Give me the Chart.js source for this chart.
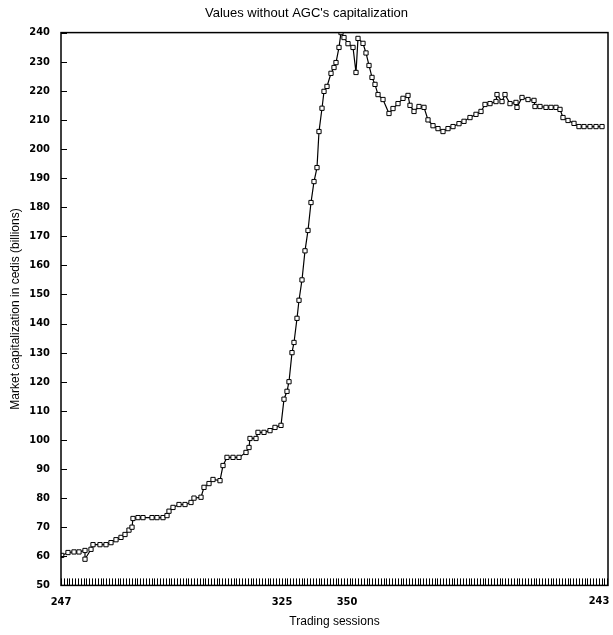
<!DOCTYPE html>
<html><head><meta charset="utf-8">
<script src="https://cdn.jsdelivr.net/npm/chart.js@4"></script>
<style>html,body{margin:0;padding:0;background:#fff}#w{width:613px;height:635px}</style>
</head><body><div id="w"><canvas id="c"></canvas></div>
<script>
const sessionPos = [0.7,7,13,18,24,24,30,32,39,45,50,55,60,64,68,71,72,77,82,91,96,102,106,108,112,118,124,130,133,140,143,148,152,159,162,166,172,178,185,188,189,195,197,203,209,214,220,223,226,228,231,233,236,238,241,244,247,250,253,256,258,261,263,266,270,273,275,278,280,283,287,292,295,297,302,305,308,311,314,317,322,328,332,337,342,347,349,353,358,363,367,372,377,382,387,392,398,403,409,415,420,424,429,435,436,441,444,449,455,456,461,467,473,474,479,485,490,495,499,502,507,513,518,523,529,535,541];
const capValues = [60.3,61.3,61.5,61.5,62,59,62.4,64,64,64,64.7,65.7,66.5,67.5,69,70,73,73.3,73.3,73.3,73.3,73.3,74,75.5,76.8,77.8,77.8,78.5,80,80.3,83.7,85,86.4,86,91.2,94,94,94,95.7,97.4,100.5,100.5,102.6,102.6,103.2,104.3,105,114,116.7,120,130,133.5,141.8,148,155,165,172,181.6,188.8,193.6,206,214,219.8,221.5,226,228,229.7,234.9,240,238.3,236.2,234.9,226.3,238,236.3,233,228.7,224.6,222.2,218.7,217,212.2,213.9,215.6,217.4,218.4,215,212.9,214.6,214.3,210,208,207,206,207,207.7,208.7,209.5,210.8,211.9,212.9,215.3,215.6,216.3,218.7,216.3,218.7,215.6,216,214.3,217.7,217,216.7,214.6,214.6,214.3,214.3,214.3,213.6,210.8,209.8,208.8,207.7,207.7,207.7,207.7,207.7];
const xTickPos = [0,221,286,547];
const xTickLabels = ['247','325','350','243'];
const yTicks = [50,60,70,80,90,100,110,120,130,140,150,160,170,180,190,200,210,220,230,240];
const tickFont = {family:'DejaVu Sans Condensed',size:11,weight:'bold'};

const pts = sessionPos.map((x,i)=>({x, y:capValues[i]}));
const innerTicks = {
  id:'innerTicks',
  afterDatasetsDraw(ch){
    const {ctx, chartArea:a, scales:{x,y}} = ch;
    ctx.save(); ctx.strokeStyle='#000'; ctx.lineWidth=1;
    ctx.beginPath();
    for(let v=0; v<=547; v+=2.83){ const px=Math.round(x.getPixelForValue(v))+0.5; ctx.moveTo(px,a.bottom); ctx.lineTo(px,a.bottom-7); }
    yTicks.forEach(v=>{ const py=Math.round(y.getPixelForValue(v))+0.5; ctx.moveTo(a.left,py); ctx.lineTo(a.left+6,py); });
    ctx.stroke();
    ctx.lineWidth=1.5; ctx.strokeRect(a.left,a.top,a.right-a.left,a.bottom-a.top);
    const last = xTickPos.length-1;
    ctx.fillStyle='#000'; ctx.font='bold 11px "DejaVu Sans Condensed"'; ctx.textAlign='center'; ctx.textBaseline='middle';
    ctx.fillText(xTickLabels[last], x.getPixelForValue(xTickPos[last])-9, a.bottom+16);
    ctx.restore();
  }
};
new Chart(document.getElementById('c'),{
  type:'line',
  data:{datasets:[{data:pts,borderColor:'#000',borderWidth:1.2,pointStyle:'rect',pointRadius:3,pointBackgroundColor:'#fff',pointBorderColor:'#000',pointBorderWidth:1,tension:0}]},
  options:{
    responsive:true,maintainAspectRatio:false,animation:false,
    layout:{padding:{top:4,right:4,left:4,bottom:2}},
    plugins:{legend:{display:false},tooltip:{enabled:false},
      title:{display:true,text:"Values without AGC's capitalization",color:'#000',font:{family:'Liberation Sans',size:13,weight:'normal'},padding:{top:2,bottom:11}}},
    scales:{
      x:{type:'linear',min:0,max:547,
        afterBuildTicks(s){ s.ticks = xTickPos.slice(0,-1).map(v=>({value:v})); },
        ticks:{autoSkip:false,maxRotation:0,color:'#000',font:tickFont,padding:2,
          callback:(v)=>{const i=xTickPos.indexOf(v); return i>=0?xTickLabels[i]:'';}},
        grid:{display:false},border:{display:false},
        title:{display:true,text:'Trading sessions',color:'#000',font:{family:'Liberation Sans',size:12},padding:{top:4}}},
      y:{min:50,max:240,
        afterBuildTicks(s){ s.ticks = yTicks.map(v=>({value:v})); },
        afterFit(s){ s.width=57; },
        ticks:{autoSkip:false,color:'#000',font:tickFont,padding:3},
        grid:{display:false},border:{display:false},
        title:{display:true,text:'Market capitalization in cedis (billions)',color:'#000',font:{family:'Liberation Sans',size:12},padding:{bottom:2}}}
    }
  },
  plugins:[innerTicks]
});
</script></body></html>
